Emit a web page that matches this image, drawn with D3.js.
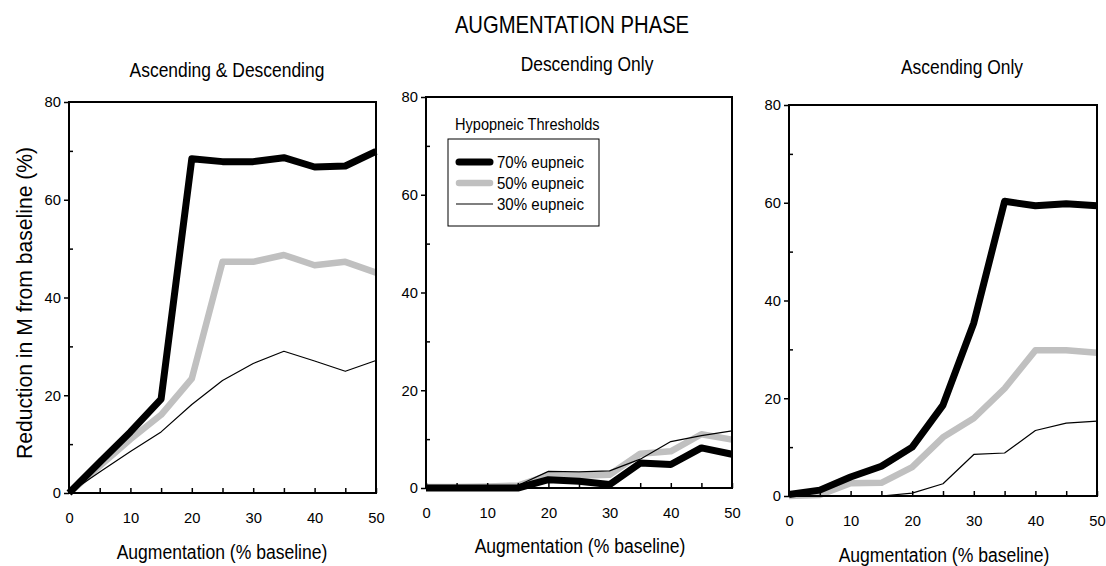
<!DOCTYPE html>
<html lang="en">
<meta charset="utf-8">
<head>
  <script src="https://d3js.org/d3.v7.min.js"></script>
</head>
<body>
  <div id="chart"></div>
  <script>
    // data
    var xValues = [0, 5, 10, 15, 20, 25, 30, 35, 40, 45, 50];
    var panelTitles = ["Ascending & Descending", "Descending Only", "Ascending Only"];
    var seriesNames = ["70% eupneic", "50% eupneic", "30% eupneic"];
    var yTicks = [0, 20, 40, 60, 80];
    var yMinor = [10, 30, 50, 70];
    var xTicks = [0, 10, 20, 30, 40, 50];
    var xMinor = [5, 15, 25, 35, 45];

    var ascDesc70 = [0, 6.3, 12.5, 19.2, 68.4, 67.8, 67.8, 68.6, 66.7, 66.9, 69.9];
    var ascDesc50 = [0, 5.5, 11, 16, 23.4, 47.3, 47.3, 48.7, 46.6, 47.3, 45.1];
    var ascDesc30 = [0, 4.3, 8.5, 12.5, 18.1, 23, 26.5, 29, 27, 24.9, 27.1];

    var descOnly70 = [0, 0, 0, 0, 1.7, 1.4, 0.7, 5.1, 4.8, 8.2, 6.9];
    var descOnly50 = [0.2, 0.2, 0.3, 0.5, 2.6, 2.5, 2.7, 7, 7.5, 11, 9.9];
    var descOnly30 = [0, 0.1, 0.3, 0.5, 3.4, 3.3, 3.5, 5.9, 9.5, 10.7, 11.7];

    var ascOnly70 = [0.3, 1.2, 3.9, 6.1, 10, 18.6, 35.4, 60.3, 59.4, 59.8, 59.4];
    var ascOnly50 = [0, 0.2, 2.6, 2.7, 5.9, 12, 15.9, 22, 29.8, 29.8, 29.3];
    var ascOnly30 = [0, 0, 0, 0, 0.6, 2.5, 8.5, 8.8, 13.4, 14.9, 15.3];

    var panelData = [
      [ascDesc50, ascDesc70, ascDesc30],
      [descOnly50, descOnly70, descOnly30],
      [ascOnly50, ascOnly70, ascOnly30]
    ];

    // layout
    var W = 1106, H = 566;
    var panels = [
      { left: 69, right: 376, top: 102, bottom: 493, tx: 227, ty: 77, lx: 222, ly: 559 },
      { left: 426, right: 732, top: 97, bottom: 488, tx: 587, ty: 71, lx: 580, ly: 553 },
      { left: 789, right: 1097, top: 105, bottom: 496, tx: 962, ty: 74, lx: 944, ly: 562 }
    ];
    var styles = [
      { color: "#c0c0c0", width: 6.5 },
      { color: "#000", width: 7 },
      { color: "#000", width: 1.2 }
    ];
    var font = "'Liberation Sans', Arial, sans-serif";

    // squeeze glyphs a bit, the original uses a narrow face
    function condense(sel, f) {
      sel.each(function () {
        var len = this.getComputedTextLength();
        d3.select(this).attr("textLength", len * f).attr("lengthAdjust", "spacingAndGlyphs");
      });
    }

    var svg = d3.select("#chart").append("svg")
      .attr("width", W)
      .attr("height", H)
      .style("font-family", font);

    svg.append("text")
      .attr("x", 572).attr("y", 33)
      .attr("text-anchor", "middle")
      .attr("font-size", 24.5)
      .text("AUGMENTATION PHASE")
      .call(condense, 0.826);

    svg.append("text")
      .attr("transform", "translate(32,303) rotate(-90)")
      .attr("text-anchor", "middle")
      .attr("font-size", 22)
      .text("Reduction in M from baseline (%)")
      .call(condense, 0.96);

    panels.forEach(function (p, i) {
      var x = d3.scaleLinear().domain([0, 50]).range([p.left, p.right]);
      var y = d3.scaleLinear().domain([0, 80]).range([p.bottom, p.top]);
      var g = svg.append("g");

      // lines
      var line = d3.line()
        .x(function (d, k) { return x(xValues[k]); })
        .y(function (d) { return y(d); });
      panelData[i].forEach(function (vals, j) {
        g.append("path")
          .datum(vals)
          .attr("d", line)
          .attr("fill", "none")
          .attr("stroke", styles[j].color)
          .attr("stroke-width", styles[j].width)
          .attr("stroke-linejoin", "round");
      });

      // frame
      g.append("rect")
        .attr("x", p.left).attr("y", p.top)
        .attr("width", p.right - p.left).attr("height", p.bottom - p.top)
        .attr("fill", "none").attr("stroke", "#000").attr("stroke-width", 2);

      // y axis: major ticks out, minor in
      g.append("g").attr("transform", "translate(" + p.left + ",0)")
        .call(d3.axisLeft(y).tickValues(yTicks).tickSize(5).tickPadding(3))
        .call(function (s) {
          s.select(".domain").remove();
          s.selectAll("line").attr("stroke-width", 1.5);
          s.selectAll("text").attr("font-size", 15.5).attr("font-family", font)
            .attr("fill", "#000").call(condense, 0.95);
        });
      g.append("g").attr("transform", "translate(" + p.left + ",0)")
        .call(d3.axisRight(y).tickValues(yMinor).tickSize(4).tickFormat(""))
        .call(function (s) { s.select(".domain").remove(); s.selectAll("line").attr("stroke-width", 1.5); });

      // x axis: all ticks point inward
      g.append("g").attr("transform", "translate(0," + p.bottom + ")")
        .call(d3.axisBottom(x).tickValues(xTicks).tickSize(0).tickPadding(19))
        .call(function (s) {
          s.select(".domain").remove();
          s.selectAll("text").attr("font-size", 15.5).attr("font-family", font)
            .attr("fill", "#000").call(condense, 0.95);
        });
      g.append("g").attr("transform", "translate(0," + p.bottom + ")")
        .call(d3.axisTop(x).tickValues(xTicks.concat(xMinor)).tickSize(5).tickFormat(""))
        .call(function (s) { s.select(".domain").remove(); s.selectAll("line").attr("stroke-width", 1.5); });

      g.append("text")
        .attr("x", p.tx).attr("y", p.ty)
        .attr("text-anchor", "middle")
        .attr("font-size", 21)
        .text(panelTitles[i])
        .call(condense, 0.83);

      g.append("text")
        .attr("x", p.lx).attr("y", p.ly)
        .attr("text-anchor", "middle")
        .attr("font-size", 19.5)
        .text("Augmentation (% baseline)")
        .call(condense, 0.9);
    });

    // legend in the middle panel
    var leg = svg.append("g");
    leg.append("text")
      .attr("x", 455).attr("y", 130)
      .attr("font-size", 16)
      .text("Hypopneic Thresholds")
      .call(condense, 0.91);
    leg.append("rect")
      .attr("x", 448).attr("y", 139)
      .attr("width", 151).attr("height", 87)
      .attr("fill", "#fff").attr("stroke", "#000").attr("stroke-width", 1);
    var legStyles = [styles[1], styles[0], styles[2]];
    var legRows = [162, 183, 204];
    seriesNames.forEach(function (name, k) {
      leg.append("line")
        .attr("x1", k < 2 ? 459 : 456).attr("x2", k < 2 ? 490 : 493)
        .attr("y1", legRows[k]).attr("y2", legRows[k])
        .attr("stroke", legStyles[k].color)
        .attr("stroke-width", legStyles[k].width)
        .attr("stroke-linecap", k < 2 ? "round" : "butt");
      leg.append("text")
        .attr("x", 497).attr("y", legRows[k] + 5.5)
        .attr("font-size", 16)
        .text(name)
        .call(condense, 0.94);
    });
  </script>

  <style>
    body { margin: 0; background: #fff; }
  </style>
</body>
</html>
